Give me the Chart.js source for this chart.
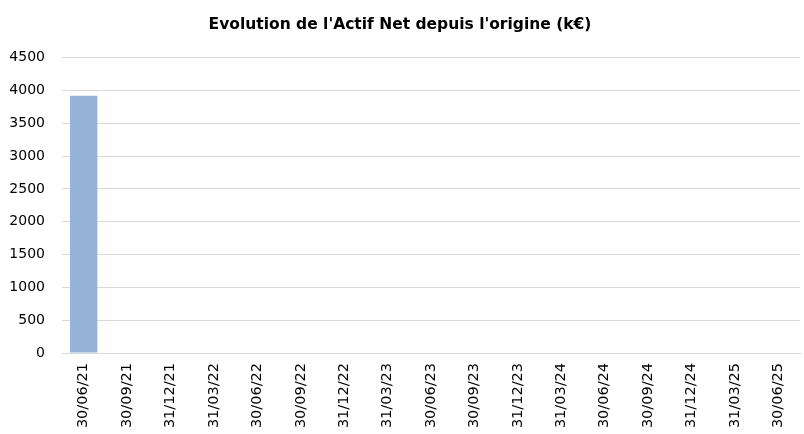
<!DOCTYPE html>
<html>
<head>
<meta charset="utf-8">
<script src="https://cdn.jsdelivr.net/npm/chart.js@4"></script>
<style>
  html, body { margin: 0; padding: 0; background: #fff; }
  #wrap { width: 804px; height: 434px; }
</style>
</head>
<body>
<div id="wrap"><canvas id="graphique"></canvas></div>
<script>
// Données du graphique
const dates = ['30/06/21', '30/09/21', '31/12/21', '31/03/22', '30/06/22', '30/09/22', '31/12/22',
  '31/03/23', '30/06/23', '30/09/23', '31/12/23', '31/03/24', '30/06/24', '30/09/24',
  '31/12/24', '31/03/25', '30/06/25'];
const actifNet = [3920, 0, 0, 0, 0, 0, 0, 0, 0, 0, 0, 0, 0, 0, 0, 0, 0];
const yTicks = [0, 500, 1000, 1500, 2000, 2500, 3000, 3500, 4000, 4500];

document.addEventListener('DOMContentLoaded', function() {
    const ctx = document.getElementById('graphique').getContext('2d');
    new Chart(ctx, {
        type: 'bar',
        data: {
            labels: dates,
            datasets: [{
                label: 'Actif Net',
                data: actifNet,
                backgroundColor: '#95b3d7',
                borderWidth: 0,
                categoryPercentage: 1,
                barPercentage: 0.63
            }]
        },
        options: {
            responsive: true,
            maintainAspectRatio: false,
            animation: false,
            layout: { padding: { left: 0, right: 4, top: 0, bottom: 4 } },
            plugins: {
                legend: { display: false },
                tooltip: { enabled: false },
                title: {
                    display: true,
                    text: "Evolution de l'Actif Net depuis l'origine (k€)",
                    color: '#000',
                    font: { family: 'DejaVu Sans', size: 15.5, weight: 'bold' },
                    padding: { top: 16, bottom: 23 }
                }
            },
            scales: {
                x: {
                    afterFit: function(axis) {
                        axis.height = 77;
                    },
                    grid: { display: false },
                    border: { color: '#d9d9d9' },
                    ticks: {
                        color: '#000',
                        maxRotation: 90,
                        minRotation: 90,
                        autoSkip: false,
                        padding: 2,
                        font: { family: 'DejaVu Sans', size: 14.5 }
                    }
                },
                y: {
                    min: 0,
                    max: 4500,
                    afterBuildTicks: function(axis) {
                        axis.ticks = yTicks.map(v => ({ value: v }));
                    },
                    afterFit: function(axis) {
                        axis.width = 62;
                    },
                    grid: { color: '#d9d9d9', drawTicks: false },
                    border: { display: false },
                    ticks: {
                        color: '#000',
                        padding: 17,
                        font: { family: 'DejaVu Sans', size: 14 },
                        callback: function(value) { return String(value); }
                    }
                }
            }
        }
    });
});
</script>
</body>
</html>
